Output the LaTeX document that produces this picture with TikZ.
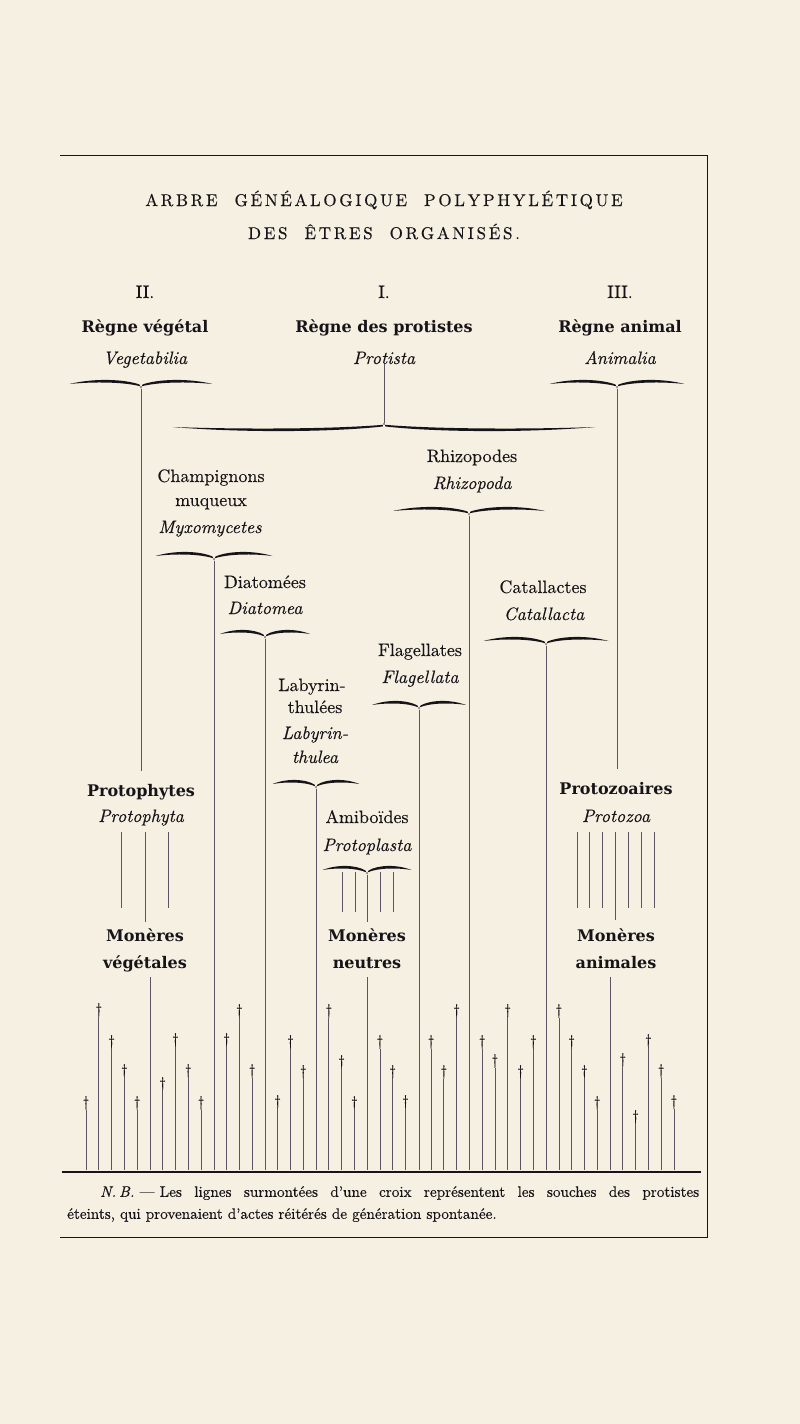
\documentclass[tikz,border=0pt]{standalone}
\usepackage{fontspec}
\setmainfont{lmroman10-regular.otf}[ItalicFont=lmroman10-italic.otf, BoldFont=lmroman10-bold.otf, FakeBold=0.3]
\newfontfamily\clarendon{DejaVu Serif}
\definecolor{paper}{RGB}{246,240,226}
\definecolor{ink}{RGB}{22,20,24}
\definecolor{stroke}{RGB}{90,84,100}
\makeatletter
\newcommand{\spreadword}[1]{\@tfor\spr@ch:=#1\do{\spr@ch\kern2.7pt}\unkern}
\makeatother
\tikzset{
  pics/ubrace/.style={code={
    \fill[ink] (-#1/2,2) .. controls (-0.33*#1,-4) and (-0.12*#1,-3) .. (-1.5,2.5)
      -- (0,6.5) -- (1.5,2.5)
      .. controls (0.12*#1,-3) and (0.33*#1,-4) .. (#1/2,2)
      .. controls (0.33*#1,-0.5) and (0.12*#1,0) .. (1,4.2)
      -- (0,5) -- (-1,4.2)
      .. controls (-0.12*#1,0) and (-0.33*#1,-0.5) .. (-#1/2,2) -- cycle;
    \coordinate (-tip) at (0,6.5);
  }},
  lbl/.style={inner sep=0pt, anchor=base, text=ink, font=\fontsize{18}{20}\selectfont},
  blbl/.style={lbl, font=\fontsize{16}{18}\selectfont\clarendon\bfseries},
  lat/.style={lbl, font=\fontsize{18}{20}\selectfont\itshape},
  heading/.style={inner sep=0pt, anchor=base, text=ink, font=\fontsize{17}{19}\selectfont},
  twig/.style={draw=stroke, line width=0.7pt},
  cross/.style={inner sep=0pt, text=ink, font=\fontsize{15}{15}\selectfont},
}
\begin{document}
\begin{tikzpicture}[x=1pt, y=-1pt]
\fill[paper] (0,0) rectangle (800,1424);
\useasboundingbox (0,0) rectangle (800,1424);

\path[draw=ink, line width=0.9pt] (60,155) -- (707,155) -- (707,1237) -- (60,1237);

\node[heading] (t1) at (384,206) {\spreadword{ARBRE}\hspace{17pt}\spreadword{GÉNÉALOGIQUE}\hspace{17pt}\spreadword{POLYPHYLÉTIQUE}};
\node[heading] (t2) at (384,239) {\spreadword{DES}\hspace{17pt}\spreadword{ÊTRES}\hspace{17pt}\spreadword{ORGANISÉS.}};

\node[lbl] (n2) at (145,298) {II.};
\node[lbl] (n1) at (384,298) {I.};
\node[lbl] (n3) at (620,298) {III.};
\node[blbl] (veg) at (145,332) {Règne végétal};
\node[blbl] (prot) at (384,332) {Règne des protistes};
\node[blbl] (anim) at (620,332) {Règne animal};
\node[lat] (vegl) at (145,364) {Vegetabilia};
\node[lat] (protl) at (384,364) {Protista};
\node[lat] (animl) at (620,364) {Animalia};

\pic (vb) at (141,382) {ubrace=143};
\pic (ab) at (617,382) {ubrace=135};
\pic[yscale=-1] (pb) at (384,429) {ubrace=423};

\node[lbl] (champ) at (211,482) {Champignons};
\node[lbl] (muq) at (211,506) {muqueux};
\node[lat] (myx) at (210,533) {Myxomycetes};
\pic (mb) at (214,554) {ubrace=117};

\node[lbl] (rhiz) at (472,462) {Rhizopodes};
\node[lat] (rhizl) at (472,489) {Rhizopoda};
\pic (rb) at (469,509) {ubrace=152};

\node[lbl] (diat) at (265,588) {Diatomées};
\node[lat] (diatl) at (265,614) {Diatomea};
\pic (db) at (265,632) {ubrace=90};

\node[lbl] (cata) at (543,593) {Catallactes};
\node[lat] (catal) at (544,620) {Catallacta};
\pic (cb) at (546,639) {ubrace=125};

\node[lbl] (flag) at (420,656) {Flagellates};
\node[lat] (flagl) at (420,683) {Flagellata};
\pic (fb) at (419,703) {ubrace=94};

\node[lbl] (laby1) at (312,691) {Labyrin-};
\node[lbl] (laby2) at (315,713) {thulées};
\node[lat] (labyl1) at (315,739) {Labyrin-};
\node[lat] (labyl2) at (315,763) {thulea};
\pic (lb) at (316,782) {ubrace=87};

\node[lbl] (amib) at (367,823) {Amiboïdes};
\node[lat] (amibl) at (367,851) {Protoplasta};
\pic (amb) at (367,868) {ubrace=89};

\node[blbl] (phyt) at (141,796) {Protophytes};
\node[lat] (phytl) at (141,822) {Protophyta};
\node[blbl] (zoa) at (616,794) {Protozoaires};
\node[lat] (zoal) at (616,822) {Protozoa};

\node[blbl] (mveg) at (145,941) {Monères};
\node[blbl] (mveg2) at (145,968) {végétales};
\node[blbl] (mneu) at (367,941) {Monères};
\node[blbl] (mneu2) at (367,968) {neutres};
\node[blbl] (mani) at (616,941) {Monères};
\node[blbl] (mani2) at (616,968) {animales};

\coordinate (floor) at (0,1170);

\path[twig] (protl.south) -- (pb-tip);
\path[twig, shorten >=13pt] (vb-tip) -- (phyt.north);
\path[twig, shorten >=13pt] (ab-tip) -- (ab-tip |- zoa.north);

\path[twig] (mb-tip) -- (mb-tip |- floor);
\path[twig] (db-tip) -- (db-tip |- floor);
\path[twig] (lb-tip) -- (lb-tip |- floor);
\path[twig] (fb-tip) -- (fb-tip |- floor);
\path[twig] (rb-tip) -- (rb-tip |- floor);
\path[twig] (cb-tip) -- (cb-tip |- floor);

\foreach \xx in {121,168} \path[twig] (\xx,832) -- (\xx,908);
\path[twig, shorten >=6pt] (145,832) -- (mveg.north);
\foreach \xx in {342,355,380,393} \path[twig] (\xx,872) -- (\xx,912);
\path[twig, shorten >=6pt] (amb-tip) -- (mneu.north);
\foreach \xx in {577,589,602,628,641,654} \path[twig] (\xx,832) -- (\xx,908);
\path[twig, shorten >=8pt] (615,832) -- (615,928);

\coordinate (sveg) at (150,977);
\coordinate (sneu) at (367,977);
\coordinate (sani) at (610,977);
\path[twig] (sveg) -- (sveg |- floor);
\path[twig] (sneu) -- (sneu |- floor);
\path[twig] (sani) -- (sani |- floor);

\foreach \k/\y in {0/1103,1/1010,2/1042,3/1071,4/1103,6/1084,7/1040,8/1071,9/1103,
  11/1040,12/1011,13/1071,15/1102,16/1042,17/1072,19/1011,20/1062,21/1103,
  23/1042,24/1072,25/1102,27/1042,28/1072,29/1011,31/1042,32/1061,33/1011,
  34/1072,35/1042,37/1011,38/1042,39/1072,40/1103,42/1060,43/1117,44/1041,
  45/1071,46/1102} {
  \node[cross] (x\k) at ({86+12.78*\k},\y) {\dag};
  \path[twig] (x\k.south) -- (x\k |- floor);
}

\coordinate (sepl) at (62,1172);
\coordinate (sepr) at (701,1172);
\path[draw=ink, line width=1.6pt] (sepl) -- (sepr);

\node[anchor=north west, inner sep=0pt, text width=632pt, align=justify, text=ink,
  font=\fontsize{15.2}{22}\selectfont] (nb) at (67,1186)
  {\hspace*{33pt}\textit{N.\kern3pt B.}\kern5pt—\kern5pt Les lignes surmontées d’une croix représentent les souches des protistes\linebreak
  éteints, qui provenaient d’actes réitérés de génération spontanée.};
\end{tikzpicture}
\end{document}
